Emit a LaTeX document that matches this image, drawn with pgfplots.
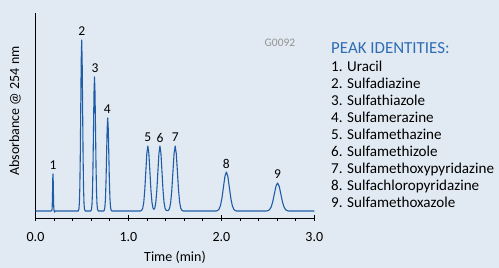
\documentclass[border=0pt]{standalone}
\usepackage{fontspec}
\setmainfont{Carlito}
\usepackage{pgfplots}
\pgfplotsset{compat=1.18}
\definecolor{bg}{RGB}{225,234,242}
\definecolor{sig}{RGB}{31,92,168}
\definecolor{ttl}{RGB}{46,109,180}
\begin{document}
\begin{tikzpicture}
\fill[bg] (0pt,0pt) rectangle (499pt,268pt);
\begin{axis}[at={(35.5pt,50pt)}, anchor=south west, scale only axis,
  width=278.8pt, height=205pt,
  xmin=0, xmax=3, ymin=-7, ymax=198,
  axis x line=bottom, axis y line=left,
  axis line style={-, black, line width=0.8pt},
  xtick={0,1,2,3}, xticklabels={0.0,1.0,2.0,3.0}, minor x tick num=4, ytick=\empty,
  tick align=outside, major tick length=6pt, minor tick length=2.8pt,
  every tick/.style={black, line width=0.8pt},
  major tick style={yshift=3.3pt},
  xticklabel style={font=\fontsize{14}{15}\selectfont, text=black, yshift=-5pt},
  /pgf/number format/assume math mode=true,
  clip=false,
]
\addplot[sig, line width=1.1pt, line join=round] coordinates {
(0,0) (0.170,0)
(0.176,0.41) (0.178,1.62) (0.180,5.01) (0.182,12.01) (0.184,22.44) (0.186,32.65) (0.188,37) (0.190,32.65) (0.192,22.44) (0.194,12.01) (0.196,5.01) (0.198,1.62) (0.200,0.41) (0.204,-1.2) (0.210,0) (0.460,0)
(0.467,1.90) (0.472,7.51) (0.477,23.14) (0.482,55.52) (0.487,103.7) (0.492,150.9) (0.497,171) (0.502,150.9) (0.507,103.7) (0.512,55.52) (0.517,23.14) (0.522,7.51) (0.527,1.90) (0.535,0) (0.595,0)
(0.602,1.49) (0.6075,5.88) (0.613,18.13) (0.6185,43.51) (0.624,81.27) (0.6295,118.3) (0.635,134) (0.6405,118.3) (0.646,81.27) (0.6515,43.51) (0.657,18.13) (0.6625,5.88) (0.668,1.49) (0.675,0) (0.735,0)
(0.741,1.03) (0.747,4.08) (0.753,12.58) (0.759,30.20) (0.765,56.40) (0.771,82.07) (0.777,93) (0.783,82.07) (0.789,56.40) (0.795,30.20) (0.801,12.58) (0.807,4.08) (0.813,1.03) (0.822,0) (1.130,0)
(1.143,0.72) (1.154,2.85) (1.165,8.79) (1.176,21.11) (1.187,39.42) (1.198,57.36) (1.209,65) (1.220,57.36) (1.231,39.42) (1.242,21.11) (1.253,8.79) (1.264,3.05) (1.274,1.65)
(1.284,3.05) (1.295,8.79) (1.306,21.11) (1.317,39.42) (1.328,57.36) (1.339,65) (1.350,57.36) (1.361,39.42) (1.372,21.11) (1.383,8.79) (1.394,2.85) (1.405,0.72) (1.418,0.3)
(1.431,0.72) (1.443,2.85) (1.455,8.79) (1.467,21.11) (1.479,39.42) (1.491,57.36) (1.503,65) (1.515,57.36) (1.527,39.42) (1.539,21.11) (1.551,8.79) (1.563,2.85) (1.575,0.72) (1.590,0) (1.945,0)
(1.958,0.43) (1.974,1.71) (1.990,5.28) (2.006,12.66) (2.022,23.65) (2.038,34.42) (2.054,39) (2.070,34.42) (2.086,23.65) (2.102,12.66) (2.118,5.28) (2.134,1.71) (2.150,0.43) (2.165,0) (2.485,0)
(2.500,0.31) (2.5175,1.23) (2.535,3.79) (2.5525,9.09) (2.570,16.98) (2.5875,24.71) (2.605,28) (2.6225,24.71) (2.640,16.98) (2.6575,9.09) (2.675,3.79) (2.6925,1.23) (2.710,0.31) (2.725,0) (3.0,0)
};
\begin{scope}[every node/.style={font=\fontsize{13.5}{14}\selectfont, inner sep=0pt}]
\node at (axis cs:0.188,45.5) {1};
\node at (axis cs:0.497,179.5) {2};
\node at (axis cs:0.640,142.5) {3};
\node at (axis cs:0.772,101.5) {4};
\node at (axis cs:1.209,73.5) {5};
\node at (axis cs:1.339,73.5) {6};
\node at (axis cs:1.503,73.5) {7};
\node at (axis cs:2.054,47.5) {8};
\node at (axis cs:2.605,36.5) {9};
\end{scope}
\end{axis}
\node[rotate=90, font=\fontsize{14}{16}\selectfont, inner sep=0pt] at (15pt,157pt) {Absorbance @ 254 nm};
\node[font=\fontsize{14}{16}\selectfont, inner sep=0pt] at (175pt,11pt) {Time (min)};
\node[font=\fontsize{11.5}{13}\selectfont, text=black!42, inner sep=0pt] at (280pt,225pt) {G0092};
\node[anchor=base west, text=ttl, font=\fontsize{16.9}{19}\selectfont, inner sep=0pt] at (331pt,214.5pt) {PEAK IDENTITIES:};
\begin{scope}[every node/.style={anchor=base west, font=\fontsize{15.1}{17}\selectfont, inner sep=0pt}]
\node at (331pt,196.5pt) {1. Uracil};
\node at (331pt,179.5pt) {2. Sulfadiazine};
\node at (331pt,162.5pt) {3. Sulfathiazole};
\node at (331pt,145.5pt) {4. Sulfamerazine};
\node at (331pt,128.5pt) {5. Sulfamethazine};
\node at (331pt,111.5pt) {6. Sulfamethizole};
\node at (331pt,94.5pt) {7. Sulfamethoxypyridazine};
\node at (331pt,77.5pt) {8. Sulfachloropyridazine};
\node at (331pt,60.5pt) {9. Sulfamethoxazole};
\end{scope}
\pgfresetboundingbox
\useasboundingbox (0pt,0pt) rectangle (499pt,268pt);
\end{tikzpicture}
\end{document}
